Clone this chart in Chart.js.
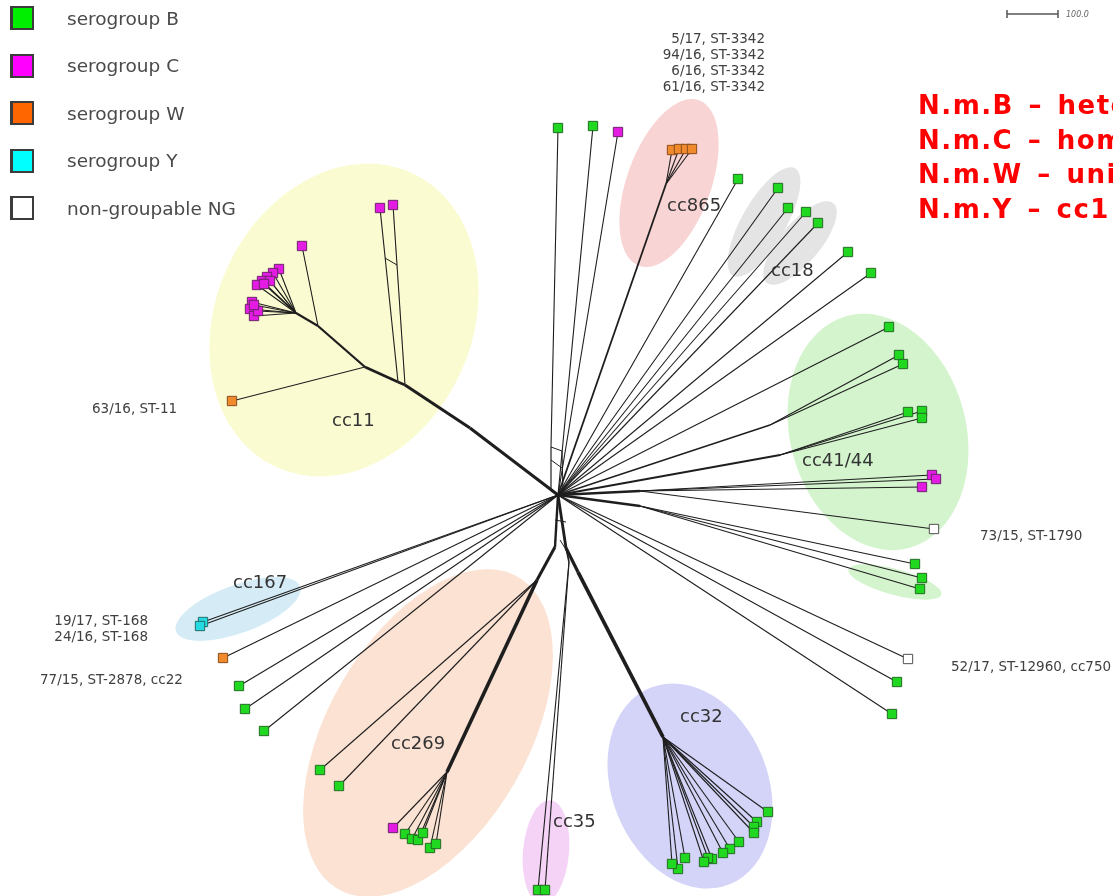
<!DOCTYPE html>
<html>
<head>
<meta charset="utf-8">
<title>MLST network</title>
<script src="https://cdn.jsdelivr.net/npm/chart.js@4.4.1/dist/chart.umd.min.js"></script>
<style>
  html, body { margin: 0; padding: 0; background: #fff; overflow: hidden; }
  #wrap { position: relative; width: 1113px; height: 896px; }
  #tree { position: absolute; left: 0; top: 0; }
  .key { position: absolute; left: 10px; height: 24px; display: flex; align-items: center;
         font: 18.5px "DejaVu Sans", Verdana, sans-serif; color: #4a4a4a; white-space: nowrap; }
  .key i { display: block; width: 24px; height: 24px; box-sizing: border-box;
           border: 2px solid #3c3c3c; border-left-width: 3px; margin-right: 33px; }
  #notes { position: absolute; left: 918px; top: 88px; color: #f00;
           font: bold 26px "DejaVu Sans", sans-serif; letter-spacing: 1.5px; word-spacing: 4px;
           line-height: 34.5px; white-space: nowrap; }
</style>
</head>
<body>
<div id="wrap">
  <canvas id="tree" width="1113" height="896"></canvas>
  <div id="keys"></div>
  <div id="notes">N.m.B – hete<br>N.m.C – hom<br>N.m.W – uni<br>N.m.Y – cc1</div>
</div>
<script>
// ---- network data (x, y in layout units) ----
const hub = [558, 495];

// internal split nodes: name, x, y, parent, stroke width
const splits = [
  ['a11', 470, 428, 'hub', 3],
  ['b11', 405, 385, 'a11', 3],
  ['c11', 398, 382, 'b11', 2.6],
  ['d11', 365, 367, 'c11', 2.6],
  ['e11', 318, 326, 'd11', 2.3],
  ['f11', 296, 313, 'e11', 2.2],
  ['v0', 551, 491, 'hub', 1.2],
  ['v1', 551, 447, 'v0', 1.2],
  ['s865', 666, 184, 'hub', 1.8],
  ['sR1', 770, 425, 'hub', 1.4],
  ['sR2', 780, 455, 'hub', 1.8],
  ['sR3', 640, 491, 'hub', 2.4],
  ['sR4', 640, 506, 'hub', 2.4],
  ['sL', 555, 547, 'hub', 2.4],
  ['sRb', 566, 548, 'hub', 2.8],
  ['s269', 537, 580, 'sL', 3],
  ['s269b', 447, 772, 's269', 3.6],
  ['s35', 569, 562, 'sRb', 1.6],
  ['s32', 578, 572, 'sRb', 3.2],
  ['s32b', 663, 737, 's32', 3.8]
];

// isolates: x, y, serogroup, parent node
const leaves = [
  // cc11
  [393, 205, 'C', 'b11'], [380, 208, 'C', 'c11'], [302, 246, 'C', 'e11'], [232, 401, 'W', 'd11'],
  [279, 269, 'C', 'f11'], [273, 273, 'C', 'f11'], [267, 277, 'C', 'f11'], [262, 281, 'C', 'f11'],
  [257, 285, 'C', 'f11'], [270, 281, 'C', 'f11'], [264, 284, 'C', 'f11'],
  [252, 302, 'C', 'f11'], [250, 309, 'C', 'f11'], [254, 316, 'C', 'f11'], [258, 311, 'C', 'f11'],
  [254, 305, 'C', 'f11'],
  // top
  [558, 128, 'B', 'v1'], [593, 126, 'B', 'hub'], [618, 132, 'C', 'hub'],
  // cc865
  [672, 150, 'W', 's865'], [679, 149, 'W', 's865'], [686, 149, 'W', 's865'], [692, 149, 'W', 's865'],
  // cc18 and neighbours
  [738, 179, 'B', 'hub'], [778, 188, 'B', 'hub'], [788, 208, 'B', 'hub'], [806, 212, 'B', 'hub'],
  [818, 223, 'B', 'hub'], [848, 252, 'B', 'hub'], [871, 273, 'B', 'hub'],
  // cc41/44
  [889, 327, 'B', 'hub'], [899, 355, 'B', 'sR1'], [903, 364, 'B', 'sR1'],
  [908, 412, 'B', 'sR2'], [922, 411, 'B', 'sR2'], [922, 418, 'B', 'sR2'],
  [932, 475, 'C', 'sR3'], [936, 479, 'C', 'sR3'], [922, 487, 'C', 'sR3'], [934, 529, 'NG', 'sR3'],
  [915, 564, 'B', 'sR4'], [922, 578, 'B', 'sR4'], [920, 589, 'B', 'sR4'],
  // right, below
  [908, 659, 'NG', 'hub'], [897, 682, 'B', 'hub'], [892, 714, 'B', 'hub'],
  // left
  [203, 622, 'Y', 'hub'], [200, 626, 'Y', 'hub'], [223, 658, 'W', 'hub'],
  [239, 686, 'B', 'hub'], [245, 709, 'B', 'hub'], [264, 731, 'B', 'hub'],
  // cc269
  [320, 770, 'B', 's269'], [339, 786, 'B', 's269'],
  [393, 828, 'C', 's269b'], [405, 834, 'B', 's269b'], [412, 839, 'B', 's269b'], [418, 840, 'B', 's269b'],
  [423, 833, 'B', 's269b'], [430, 848, 'B', 's269b'], [436, 844, 'B', 's269b'],
  // cc35
  [538, 890, 'B', 's35'], [545, 890, 'B', 's35'],
  // cc32
  [768, 812, 'B', 's32b'], [757, 822, 'B', 's32b'], [754, 827, 'B', 's32b'], [754, 833, 'B', 's32b'],
  [739, 842, 'B', 's32b'], [730, 849, 'B', 's32b'], [723, 853, 'B', 's32b'], [712, 859, 'B', 's32b'],
  [708, 858, 'B', 's32b'], [704, 862, 'B', 's32b'], [685, 858, 'B', 's32b'], [678, 869, 'B', 's32b'],
  [672, 864, 'B', 's32b']
];

// reticulations (parallel edges) in the network
const boxEdges = [
  [[385, 258], [397, 265]],
  [[551, 447], [562, 451]],
  [[551, 460], [562, 468]],
  [[562, 451], [563, 492]],
  [[555, 520], [566, 522]],
  [[560, 540], [570, 556]]
];

// clonal complex areas: name, cx, cy, rx, ry, rotation (deg)
const clusterAreas = [
  ['cc11', 344, 320, 128, 162, 25],
  ['cc865', 669, 183, 42, 88, 20],
  ['cc18', 764, 222, 22, 62, 30],
  ['cc18', 800, 243, 20, 52, 40],
  ['cc41/44', 878, 432, 88, 120, -15],
  ['cc41/44', 895, 582, 48, 13, 15],
  ['cc167', 238, 609, 66, 24, -20],
  ['cc269', 428, 733, 100, 180, 30],
  ['cc35', 546, 852, 23, 52, 5],
  ['cc32', 690, 786, 78, 106, -22]
];
const areaColors = {
  'cc11': '#fbfbd2', 'cc865': '#f9d4d4', 'cc18': '#e4e4e4', 'cc41/44': '#d3f4cd',
  'cc167': '#d5ecf6', 'cc269': '#fbe2d3', 'cc35': '#f4d3f6', 'cc32': '#d4d4f9'
};

const clusterLabels = [
  ['cc11', 332, 426], ['cc865', 667, 211], ['cc18', 771, 276], ['cc41/44', 802, 466],
  ['cc167', 233, 588], ['cc269', 391, 749], ['cc35', 553, 827], ['cc32', 680, 722]
];

// isolate annotations: text, x, y, alignment
const strainLabels = [
  ['5/17, ST-3342', 765, 43, 'right'],
  ['94/16, ST-3342', 765, 59, 'right'],
  ['6/16, ST-3342', 765, 75, 'right'],
  ['61/16, ST-3342', 765, 91, 'right'],
  ['63/16, ST-11', 92, 413, 'left'],
  ['73/15, ST-1790', 980, 540, 'left'],
  ['19/17, ST-168', 148, 625, 'right'],
  ['24/16, ST-168', 148, 641, 'right'],
  ['77/15, ST-2878, cc22', 40, 684, 'left'],
  ['52/17, ST-12960, cc750', 951, 671, 'left']
];

const serogroups = ['B', 'C', 'W', 'Y', 'NG'];
const serogroupNames = ['serogroup B', 'serogroup C', 'serogroup W', 'serogroup Y', 'non-groupable NG'];
const groupFill = { B: '#1fd81f', C: '#e31be3', W: '#f08a2c', Y: '#25d9e0', NG: '#ffffff' };
const groupEdge = { B: '#236b23', C: '#6b236b', W: '#8a4d1d', Y: '#236b6b', NG: '#505050' };
const keyFill = { B: '#00ee00', C: '#ff00ff', W: '#ff6600', Y: '#00ffff', NG: '#ffffff' };

const scaleBar = { from: 1007, to: 1058, y: 14, text: '100.0' };

// ---- legend ----
const keyBox = document.getElementById('keys');
serogroups.forEach((g, i) => {
  const row = document.createElement('div');
  row.className = 'key';
  row.style.top = (6 + i * 47.5) + 'px';
  row.innerHTML = `<i style="background:${keyFill[g]}"></i><span>${serogroupNames[i]}</span>`;
  keyBox.appendChild(row);
});

// ---- build datasets ----
const nodes = { hub };
splits.forEach(s => { nodes[s[0]] = [s[1], s[2]]; });

const lineSet = (a, b, w) => ({
  type: 'line',
  data: [{ x: a[0], y: a[1] }, { x: b[0], y: b[1] }],
  borderColor: '#1e1e1e',
  borderWidth: w,
  pointRadius: 0,
  tension: 0,
  order: 10
});

const datasets = [];
splits.forEach(s => datasets.push(lineSet(nodes[s[3]], [s[1], s[2]], s[4])));
leaves.forEach(l => datasets.push(lineSet(nodes[l[3]], [l[0], l[1]], 1.1)));
boxEdges.forEach(e => datasets.push(lineSet(e[0], e[1], 1)));

serogroups.forEach(g => {
  datasets.push({
    type: 'scatter',
    label: g,
    data: leaves.filter(l => l[2] === g).map(l => ({ x: l[0], y: l[1] })),
    pointStyle: 'rect',
    pointRadius: 6.6,
    backgroundColor: groupFill[g],
    borderColor: groupEdge[g],
    borderWidth: 1,
    order: 1
  });
});

// shaded clonal complex areas behind the network
const areaPlugin = {
  id: 'areas',
  beforeDatasetsDraw(chart) {
    const { ctx, scales: { x, y } } = chart;
    const ux = x.getPixelForValue(1) - x.getPixelForValue(0);
    const uy = Math.abs(y.getPixelForValue(1) - y.getPixelForValue(0));
    ctx.save();
    clusterAreas.forEach(([name, cx, cy, rx, ry, rot]) => {
      ctx.beginPath();
      ctx.ellipse(x.getPixelForValue(cx), y.getPixelForValue(cy), rx * ux, ry * uy,
                  rot * Math.PI / 180, 0, Math.PI * 2);
      ctx.fillStyle = areaColors[name];
      ctx.fill();
    });
    ctx.restore();
  }
};

// complex names, isolate notes and the scale bar
const textPlugin = {
  id: 'texts',
  afterDatasetsDraw(chart) {
    const { ctx, scales: { x, y } } = chart;
    ctx.save();
    ctx.textBaseline = 'alphabetic';
    ctx.fillStyle = '#333';
    ctx.font = '18px "DejaVu Sans", Verdana, sans-serif';
    ctx.textAlign = 'left';
    clusterLabels.forEach(([t, lx, ly]) => ctx.fillText(t, x.getPixelForValue(lx), y.getPixelForValue(ly)));

    ctx.fillStyle = '#404040';
    ctx.font = '13.5px "DejaVu Sans", Verdana, sans-serif';
    strainLabels.forEach(([t, lx, ly, al]) => {
      ctx.textAlign = al;
      ctx.fillText(t, x.getPixelForValue(lx), y.getPixelForValue(ly));
    });

    const x0 = x.getPixelForValue(scaleBar.from), x1 = x.getPixelForValue(scaleBar.to);
    const yb = y.getPixelForValue(scaleBar.y);
    ctx.strokeStyle = '#555';
    ctx.lineWidth = 1.5;
    ctx.beginPath();
    ctx.moveTo(x0, yb); ctx.lineTo(x1, yb);
    ctx.moveTo(x0, yb - 4); ctx.lineTo(x0, yb + 4);
    ctx.moveTo(x1, yb - 4); ctx.lineTo(x1, yb + 4);
    ctx.stroke();
    ctx.fillStyle = '#666';
    ctx.font = 'italic 8px "DejaVu Sans", sans-serif';
    ctx.textAlign = 'left';
    ctx.fillText(scaleBar.text, x1 + 8, yb + 3);
    ctx.restore();
  }
};

new Chart(document.getElementById('tree'), {
  type: 'scatter',
  data: { datasets },
  options: {
    responsive: false,
    animation: false,
    devicePixelRatio: 1,
    layout: { padding: 0, autoPadding: false },
    plugins: { legend: { display: false }, tooltip: { enabled: false } },
    scales: {
      x: { type: 'linear', min: 0, max: 1113, display: false },
      y: { type: 'linear', min: 0, max: 896, reverse: true, display: false }
    }
  },
  plugins: [areaPlugin, textPlugin]
});
</script>
</body>
</html>
